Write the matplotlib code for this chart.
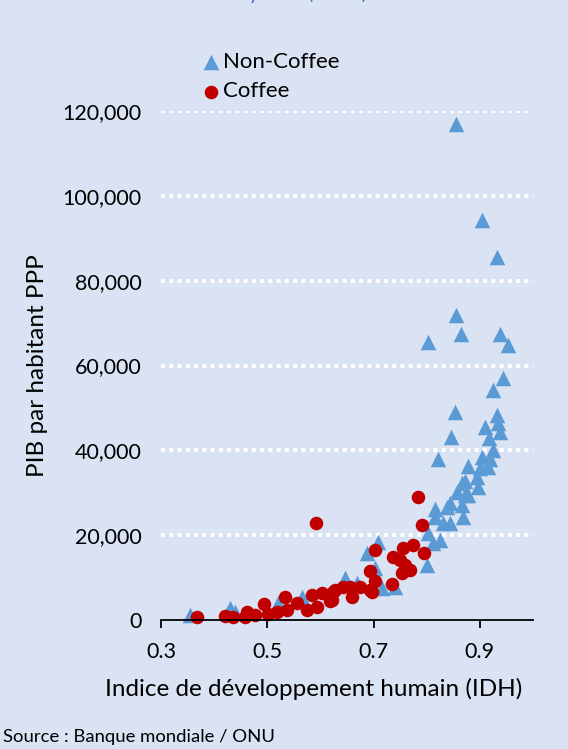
import matplotlib
matplotlib.use("Agg")
import matplotlib.pyplot as plt
from matplotlib.ticker import FuncFormatter

plt.rcParams['font.family'] = ['Lato', 'DejaVu Sans']

# Indice de développement humain (x) / PIB par habitant PPP (y)
non_coffee_idh = [0.355, 0.430, 0.439, 0.520, 0.565, 0.646, 0.669, 0.687, 0.702, 0.708,
                  0.716, 0.740, 0.800, 0.802, 0.812, 0.825, 0.830, 0.844, 0.815, 0.868,
                  0.838, 0.815, 0.866, 0.843, 0.872, 0.857, 0.896, 0.872, 0.894, 0.900,
                  0.915, 0.877, 0.919, 0.904, 0.924, 0.917, 0.938, 0.909, 0.934, 0.932,
                  0.943, 0.924, 0.821, 0.845, 0.853, 0.953, 0.938, 0.864, 0.802, 0.855,
                  0.932, 0.904, 0.855, 0.866, 0.877]
non_coffee_pib = [1200, 2800, 1900, 4000, 5400, 9900, 8700, 15800, 12300, 18400,
                  7600, 7800, 13000, 20500, 18200, 18900, 22900, 22900, 24300, 24300,
                  26600, 26200, 27100, 27600, 29500, 30200, 31400, 32800, 33700, 35800,
                  36100, 36300, 38000, 38400, 40100, 42900, 44300, 45500, 46500, 48300,
                  57000, 54200, 37900, 43100, 49000, 64800, 67400, 67400, 65500, 71900,
                  85600, 94300, 117000, 32300, 29500]

coffee_idh = [0.368, 0.420, 0.435, 0.458, 0.462, 0.477, 0.494, 0.501, 0.518, 0.533,
              0.537, 0.556, 0.575, 0.584, 0.592, 0.593, 0.603, 0.618, 0.622, 0.623,
              0.627, 0.642, 0.655, 0.659, 0.674, 0.693, 0.693, 0.697, 0.702, 0.702,
              0.734, 0.736, 0.750, 0.753, 0.755, 0.759, 0.768, 0.774, 0.783, 0.791,
              0.795]
coffee_pib = [700, 900, 700, 700, 1900, 1200, 3800, 1400, 1900, 5400,
              2400, 4000, 2400, 5900, 22900, 3100, 6400, 4500, 4700, 6600,
              7100, 7800, 7800, 5400, 7800, 7100, 11500, 6600, 9200, 16600,
              8400, 14900, 14100, 11100, 17000, 13000, 11800, 17700, 29000, 22400,
              15800]

x_ticks = [0.3, 0.5, 0.7, 0.9]
y_ticks = [0, 20000, 40000, 60000, 80000, 100000, 120000]

bg = '#DAE3F3'
W, H = 568, 749
fig = plt.figure(figsize=(W / 100, H / 100), dpi=100, facecolor=bg)
ax = fig.add_axes([161 / W, 1 - 620 / H, (533 - 161) / W, (620 - 111) / H], facecolor=bg)

ax.scatter(non_coffee_idh, non_coffee_pib, marker='^', s=125, color='#5B9BD5',
           linewidths=0, label='Non-Coffee', zorder=3, clip_on=False)
ax.scatter(coffee_idh, coffee_pib, marker='o', s=95, color='#C00000',
           linewidths=0, label='Coffee', zorder=4, clip_on=False)

ax.set_xlim(0.3, 1.0)
ax.set_ylim(0, 120000)
ax.set_xticks(x_ticks)
ax.set_yticks(y_ticks)
ax.xaxis.set_major_formatter(FuncFormatter(lambda v, p: f'{v:.1f}'))
ax.yaxis.set_major_formatter(FuncFormatter(lambda v, p: f'{v:,.0f}'))

for s in ['top', 'right', 'left']:
    ax.spines[s].set_visible(False)
ax.spines['bottom'].set_color('black')
ax.spines['bottom'].set_linewidth(1.3)
ax.spines['bottom'].set_zorder(5)

ax.tick_params(axis='x', direction='out', length=6, width=1.3, color='black',
               labelsize=15.5, pad=10)
ax.tick_params(axis='y', length=0, labelsize=15.5, pad=14)

for yv in y_ticks[1:]:
    ax.axhline(yv, color='white', linewidth=2.9, linestyle=(0, (1, 1.05)), zorder=1)

ax.set_xlabel('Indice de développement humain (IDH)', fontsize=17.5)
ax.xaxis.set_label_coords((314 - 161) / (533 - 161), -(689 - 620) / (620 - 111))
ax.xaxis.label.set_va('center')
ax.set_ylabel('PIB par habitant PPP', fontsize=17.5)
ax.yaxis.set_label_coords(-(161 - 38) / (533 - 161), (620 - 366) / (620 - 111))
ax.yaxis.label.set_va('center')

leg = ax.legend(loc='upper left', bbox_to_anchor=(202 / W, 1 - 52 / H),
                bbox_transform=fig.transFigure, frameon=False, fontsize=16,
                handlelength=0.8, handletextpad=0.15, labelspacing=0.42,
                borderpad=0, borderaxespad=0)

fig.text(367 / W, 1 + 1 / H, 'Coffee vs Non-Coffee countries by HDI (2019)',
         ha='right', va='baseline', color='#4472C4', fontsize=15)

fig.text(3 / W, 1 - 737 / H, 'Source : Banque mondiale / ONU', ha='left', va='center',
         fontsize=13.3)

fig.savefig('out.png', dpi=100, facecolor=bg)
